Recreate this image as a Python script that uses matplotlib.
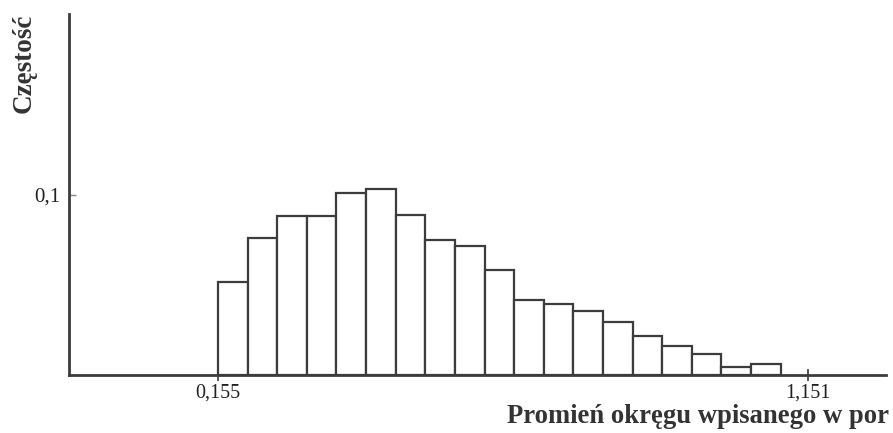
import matplotlib

matplotlib.use("Agg")

import matplotlib.pyplot as plt

# histogram bins (left edges) and relative frequencies
bin_left = [0.155, 0.205, 0.255, 0.305, 0.355, 0.405, 0.455, 0.505, 0.555, 0.605,
            0.655, 0.705, 0.755, 0.805, 0.855, 0.905, 0.955, 1.005, 1.055]
bin_width = 0.05
freq = [0.0518, 0.0759, 0.0880, 0.0880, 0.1006, 0.1032, 0.0889, 0.0750, 0.0717, 0.0580,
        0.0417, 0.0393, 0.0356, 0.0293, 0.0217, 0.0161, 0.0117, 0.0046, 0.0059]

x_ticks = [0.155, 1.151]
x_tick_labels = ["0,155", "1,151"]
y_ticks = [0.1]
y_tick_labels = ["0,1"]

_INK = "#3c3c3c"

plt.rcParams["font.family"] = ["Liberation Serif", "DejaVu Serif"]

fig = plt.figure(figsize=(8.93, 4.33), dpi=100)
fig.patch.set_facecolor("white")
ax = fig.add_axes([69 / 893, 1 - 375 / 433, (886 - 69) / 893, (375 - 14) / 433])

ax.bar(bin_left, freq, width=bin_width, align="edge", color="white",
       edgecolor=_INK, linewidth=1.6, zorder=2)

ax.set_xlim(-0.0965, 1.2827)
ax.set_ylim(0, 0.2)

ax.set_xticks(x_ticks)
ax.set_xticklabels(x_tick_labels)
ax.set_yticks(y_ticks)
ax.set_yticklabels(y_tick_labels)
ax.tick_params(axis="x", direction="inout", length=8, width=1.2, color=_INK,
               labelsize=14.5, labelcolor="#222222", pad=2)
ax.tick_params(axis="y", direction="in", length=5, width=1.0, color="#888888",
               labelsize=15, labelcolor="#222222", pad=6)

for side in ("top", "right"):
    ax.spines[side].set_visible(False)
for side in ("left", "bottom"):
    ax.spines[side].set_linewidth(2.0)
    ax.spines[side].set_color(_INK)

fig.text(24 / 893, 1 - 63 / 433, "Częstość", rotation=90, ha="center", va="center",
         fontsize=19.5, fontweight="bold", color="#333333")
fig.text(507 / 893, 1 - 423 / 433, "Promień okręgu wpisanego w por", ha="left", va="baseline",
         fontsize=19.2, fontweight="bold", color="#333333")

fig.savefig("out.png", facecolor=fig.get_facecolor())
plt.close(fig)
